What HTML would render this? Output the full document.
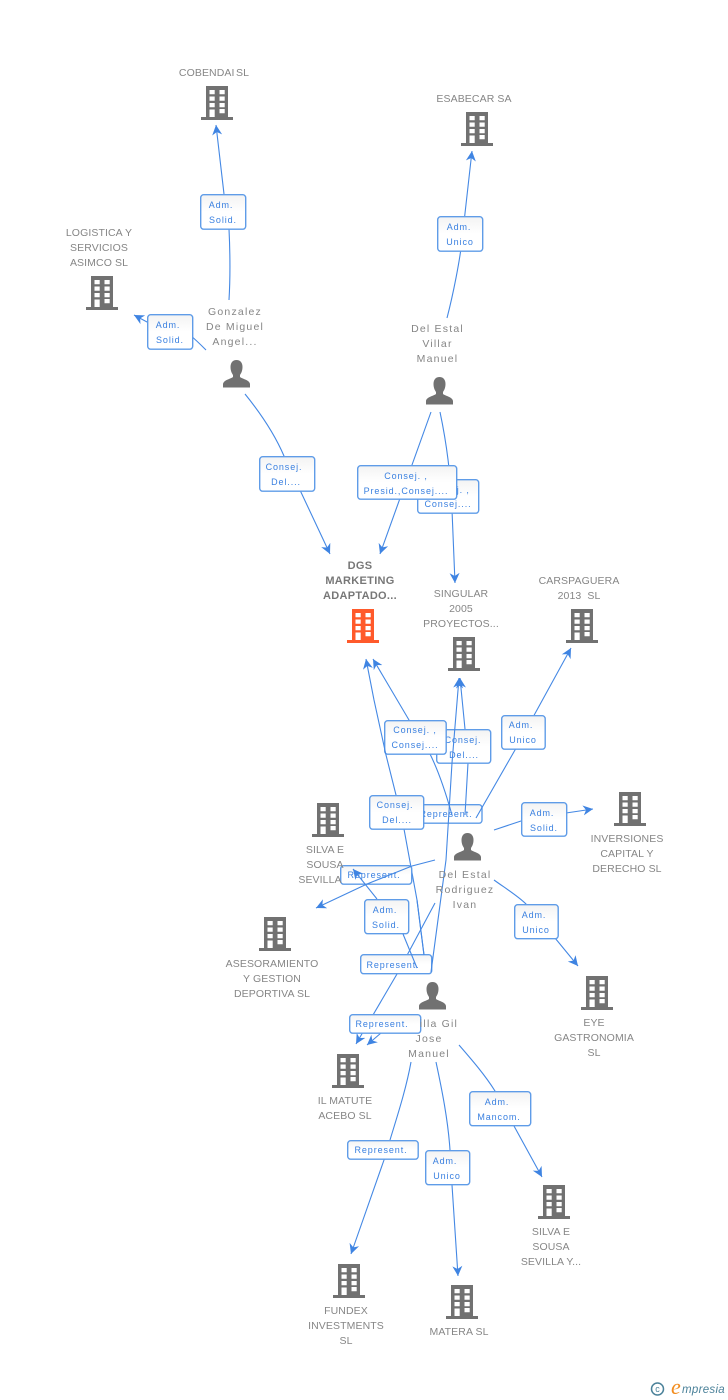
<!DOCTYPE html>
<html><head><meta charset="utf-8"><title>Diagram</title>
<style>
html,body{margin:0;padding:0;background:#fff}
svg{display:block}
.n{font:10.5px "Liberation Sans",sans-serif;letter-spacing:.1px;fill:#868686;text-anchor:middle}
.p{font:10.5px "Liberation Sans",sans-serif;letter-spacing:1.2px;fill:#868686;text-anchor:middle}
.b{font:bold 11px "Liberation Sans",sans-serif;letter-spacing:.3px;fill:#777;text-anchor:middle}
.t{font:9px "Liberation Sans",sans-serif;letter-spacing:.9px;fill:#3a80e0;text-anchor:middle}
.l{fill:none;stroke:#4488e4;stroke-width:1.1;marker-end:url(#a)}
.x{fill:none;stroke:#4488e4;stroke-width:1.1}
.r{fill:url(#g);stroke:#5f9ce8;stroke-width:1.4}
</style></head><body>
<svg width="728" height="1400" viewBox="0 0 728 1400" xmlns="http://www.w3.org/2000/svg">
<defs>
<linearGradient id="g" x1="0" y1="0" x2="0" y2="1"><stop offset="0" stop-color="#f3f3f3"/><stop offset=".5" stop-color="#fff"/><stop offset="1" stop-color="#fff"/></linearGradient>
<marker id="a" markerUnits="userSpaceOnUse" markerWidth="12" markerHeight="12" refX="10" refY="5.5" orient="auto"><path d="M10,5.5 L0,0.5 L3,5.5 L0,10.5 Z" fill="#3f84e2"/></marker>
<symbol id="bd" viewBox="0 0 32 34" width="32" height="34" overflow="visible">
<path fill-rule="evenodd" d="M5,0H27V31H32V34H0V31H5Z M8.5,4V8.300H13.700V4Z M18.500,4V8.300H23.700V4Z M8.500,10.500V14.800H13.700V10.500Z M18.500,10.500V14.800H23.700V10.500Z M8.500,17V21.300H13.700V17Z M18.500,17V21.300H23.700V17Z M8.500,23.500V31H13.700V23.500Z M18.500,23V27.300H23.700V23Z"/>
</symbol>
<symbol id="pn" viewBox="0 0 28 28" width="28" height="28">
<path fill="#717171" d="M14,0C18,0 20,3 20,7C20,11 18.500,13.500 17.500,15V17C20,19 27,20 27.500,24V27.500H0.500V24C1,20 8,19 10.500,17V15C9.500,13.500 8,11 8,7C8,3 10,0 14,0Z"/>
</symbol>
</defs>

<!-- top-left group -->
<path class="l" d="M229,300 C230.500,275 230,250 229,229 L224,194 L216,125"/>
<rect class="r" x="200.700" y="194.700" width="45" height="34.500" rx="3"/>
<text class="t" x="221" y="208">Adm.</text><text class="t" x="223" y="223">Solid.</text>
<path class="l" d="M206,350 C200,344 196,340 190,335 L147,322 L134,315"/>
<rect class="r" x="147.700" y="314.700" width="45" height="34.500" rx="3"/>
<text class="t" x="168" y="328">Adm.</text><text class="t" x="170" y="343">Solid.</text>
<path class="l" d="M447,318 C453,295 460,260 462,240 L472,151"/>
<rect class="r" x="437.700" y="216.700" width="45" height="34.500" rx="3"/>
<text class="t" x="459" y="230">Adm.</text><text class="t" x="460" y="245">Unico</text>
<path class="l" d="M245,394 C262,415 275,435 284,456 L330,554"/>
<rect class="r" x="259.700" y="456.700" width="55" height="34.500" rx="3"/>
<text class="t" x="284" y="470">Consej.</text><text class="t" x="286" y="485">Del....</text>

<path class="l" d="M440,412 C447,445 451,480 452,510 L455,583"/>
<rect class="r" x="417.700" y="479.700" width="61" height="33.500" rx="3"/>
<text class="t" x="448" y="493">Consej. ,</text><text class="t" x="448" y="507">Consej....</text>
<path class="l" d="M431,412 L380,554"/>
<rect class="r" x="357.700" y="465.700" width="99" height="33.500" rx="3"/>
<text class="t" x="406" y="479">Consej. ,</text><text class="t" x="406" y="494">Presid.,Consej....</text>

<!-- middle tangle -->
<rect class="r" x="410" y="804.700" width="72" height="18.500" rx="3"/>
<text class="t" x="446" y="817">Represent.</text>
<path class="l" d="M465,815 L468,763 L465,729 L460,678"/>
<rect class="r" x="436.700" y="729.700" width="54" height="33.500" rx="3"/>
<text class="t" x="463" y="743">Consej.</text><text class="t" x="464" y="758">Del....</text>
<path class="l" d="M452,815 C445,790 438,770 430,754 L409,720 L373,659"/>
<rect class="r" x="384.700" y="720.700" width="61.500" height="33.500" rx="3"/>
<text class="t" x="415" y="733">Consej. ,</text><text class="t" x="415" y="748">Consej....</text>
<path class="l" d="M476,818 L515,750 L571,648"/>
<rect class="r" x="501.700" y="715.700" width="43.500" height="33.500" rx="3"/>
<text class="t" x="521" y="728">Adm.</text><text class="t" x="523" y="743">Unico</text>
<path class="l" d="M494,830 L521,821 L566,813 L593,809"/>
<rect class="r" x="521.700" y="802.700" width="45" height="33.500" rx="3"/>
<text class="t" x="542" y="816">Adm.</text><text class="t" x="544" y="831">Solid.</text>
<path class="l" d="M494,880 C505,888 518,896 526,904 L555,938 L578,966"/>
<rect class="r" x="514.700" y="904.700" width="43.500" height="34" rx="3"/>
<text class="t" x="534" y="918">Adm.</text><text class="t" x="536" y="933">Unico</text>

<path class="l" d="M424,955 L417,900 L404,829 L396,795 L386,755 L374,700 L366,659"/>
<rect class="r" x="369.700" y="795.700" width="54" height="33.500" rx="3"/>
<text class="t" x="395" y="808">Consej.</text><text class="t" x="397" y="823">Del....</text>

<rect class="r" x="340.700" y="865.700" width="71" height="18.500" rx="3"/>
<text class="t" x="374" y="878">Represent.</text>
<path class="l" d="M435,860 L412,866 L367,884 L316,908"/>
<path class="l" d="M377,899 L353,869"/>
<rect class="r" x="364.700" y="899.700" width="44" height="34" rx="3"/>
<text class="t" x="385" y="913">Adm.</text><text class="t" x="386" y="928">Solid.</text>
<path class="l" d="M435,903 L397,974 L356,1044"/>
<rect class="r" x="360.700" y="954.700" width="71" height="19" rx="3"/>
<text class="t" x="393" y="968">Represent.</text>
<path class="x" d="M403,934 L417,968"/>
<path class="x" d="M417,900 L424,955"/>
<path class="l" d="M431,972 L446,860 L452,763 L459,678"/>
<path class="l" d="M395,1033 L381,1033 L367,1045"/>
<rect class="r" x="349.700" y="1014.700" width="71" height="18.500" rx="3"/>
<text class="t" x="382" y="1027">Represent.</text>

<!-- bottom -->
<path class="l" d="M411,1062 C406,1090 396,1120 390,1140 L384,1160 L351,1254"/>
<rect class="r" x="347.700" y="1140.700" width="70.500" height="18.500" rx="3"/>
<text class="t" x="381" y="1153">Represent.</text>
<path class="l" d="M436,1062 C442,1090 448,1120 450,1150 L452,1185 L458,1276"/>
<rect class="r" x="425.700" y="1150.700" width="44" height="34" rx="3"/>
<text class="t" x="445" y="1164">Adm.</text><text class="t" x="447" y="1179">Unico</text>
<path class="l" d="M459,1045 C472,1060 485,1075 495,1091 L514,1126 L542,1177"/>
<rect class="r" x="469.700" y="1091.700" width="61" height="34" rx="3"/>
<text class="t" x="497" y="1105">Adm.</text><text class="t" x="499" y="1120">Mancom.</text>

<!-- buildings -->
<g fill="#717171">
<use href="#bd" x="201" y="86"/>
<use href="#bd" x="86" y="276"/>
<use href="#bd" x="461" y="112"/>
<use href="#bd" x="448" y="637"/>
<use href="#bd" x="566" y="609"/>
<use href="#bd" x="614" y="792"/>
<use href="#bd" x="312" y="803"/>
<use href="#bd" x="259" y="917"/>
<use href="#bd" x="581" y="976"/>
<use href="#bd" x="332" y="1054"/>
<use href="#bd" x="538" y="1185"/>
<use href="#bd" x="333" y="1264"/>
<use href="#bd" x="446" y="1285"/>
</g>
<use href="#bd" x="347" y="609" fill="#ff5a2b"/>
<use href="#pn" x="222.500" y="360"/>
<use href="#pn" x="425.500" y="377"/>
<use href="#pn" x="453.500" y="833"/>
<use href="#pn" x="418.500" y="982"/>

<!-- node text -->
<text class="n" x="214" y="76" style="word-spacing:-1.5px">COBENDAI SL</text>
<text class="n" x="474" y="102">ESABECAR SA</text>
<text class="n" x="99" y="236">LOGISTICA Y</text><text class="n" x="99" y="251">SERVICIOS</text><text class="n" x="99" y="266">ASIMCO SL</text>
<text class="p" x="235" y="315">Gonzalez</text><text class="p" x="235" y="330">De Miguel</text><text class="p" x="235" y="345">Angel...</text>
<text class="p" x="437.500" y="332">Del Estal</text><text class="p" x="437.500" y="347">Villar</text><text class="p" x="437.500" y="362">Manuel</text>
<text class="b" x="360" y="569">DGS</text><text class="b" x="360" y="584">MARKETING</text><text class="b" x="360" y="599">ADAPTADO...</text>
<text class="n" x="461" y="597">SINGULAR</text><text class="n" x="461" y="612">2005</text><text class="n" x="461" y="627">PROYECTOS...</text>
<text class="n" x="579" y="584">CARSPAGUERA</text><text class="n" x="579" y="599">2013&#160; SL</text>
<text class="n" x="627" y="842">INVERSIONES</text><text class="n" x="627" y="857">CAPITAL Y</text><text class="n" x="627" y="872">DERECHO SL</text>
<text class="n" x="325" y="853">SILVA E</text><text class="n" x="325" y="868">SOUSA</text>
<text class="n" x="320" y="883">SEVILLA</text>
<text class="p" x="465" y="878">Del Estal</text><text class="p" x="465" y="893">Rodriguez</text><text class="p" x="465" y="908">Ivan</text>
<text class="n" x="272" y="967">ASESORAMIENTO</text><text class="n" x="272" y="982">Y GESTION</text><text class="n" x="272" y="997">DEPORTIVA SL</text>
<text class="n" x="594" y="1026">EYE</text><text class="n" x="594" y="1041">GASTRONOMIA</text><text class="n" x="594" y="1056">SL</text>
<text class="p" x="439" y="1027">illa Gil</text><text class="p" x="429" y="1042">Jose</text><text class="p" x="429" y="1057">Manuel</text>
<text class="n" x="345" y="1104">IL MATUTE</text><text class="n" x="345" y="1119">ACEBO SL</text>
<text class="n" x="551" y="1235">SILVA E</text><text class="n" x="551" y="1250">SOUSA</text><text class="n" x="551" y="1265">SEVILLA Y...</text>
<text class="n" x="346" y="1314">FUNDEX</text><text class="n" x="346" y="1329">INVESTMENTS</text><text class="n" x="346" y="1344">SL</text>
<text class="n" x="459" y="1335">MATERA SL</text>

<!-- logo -->
<circle cx="657.500" cy="1389" r="6" fill="none" stroke="#4a8199" stroke-width="1.500"/>
<text x="657.500" y="1392" font-family="Liberation Sans, sans-serif" font-size="9" fill="#4a8199" text-anchor="middle">c</text>
<text x="671" y="1394" font-family="Liberation Serif, serif" font-style="italic" font-size="22" fill="#f28c1e">e</text>
<text x="682" y="1393" font-family="Liberation Sans, sans-serif" font-style="italic" font-size="11.500" letter-spacing=".3" fill="#4a8199">mpresia</text>
</svg>
</body></html>
